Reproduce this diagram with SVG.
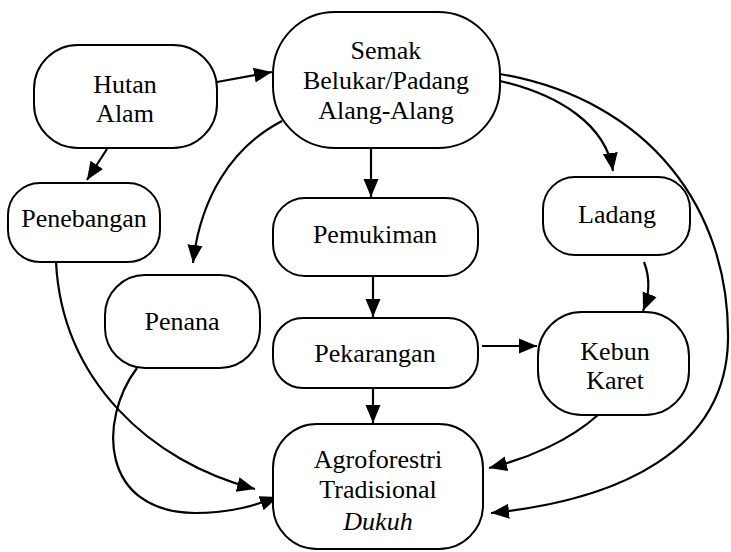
<svg xmlns="http://www.w3.org/2000/svg" width="731" height="552" viewBox="0 0 731 552">
<style>
.n rect{fill:#fff;stroke:#000;stroke-width:2}
.n text{font-family:'Liberation Serif',Tinos,'Times New Roman',Times,'DejaVu Serif',serif;font-size:26px;fill:#000;text-anchor:middle}
.c path{fill:none;stroke:#000;stroke-width:2.2;marker-end:url(#ah)}
</style>
<defs>
<marker id="ah" markerUnits="userSpaceOnUse" markerWidth="19" markerHeight="16" refX="18" refY="8" orient="auto">
<path d="M0,0.5 L18,8 L0,15.5 z" fill="#000"/>
</marker>
</defs>
<rect width="731" height="552" fill="#fff"/>
<g class="c">
<path d="M217,82 L272,72"/>
<path d="M107,149 L87,180"/>
<path d="M282,121 C230,148 200,200 193,263"/>
<path d="M371,148 L371,197"/>
<path d="M373,259 L373,317"/>
<path d="M373,388 L373,423"/>
<path d="M482,346 L537,346"/>
<path d="M500,81 C560,95 606,125 613,171"/>
<path d="M644,262 C651,280 649,296 643,311"/>
<path d="M500,74 C650,100 730,210 728,340 C726,450 620,500 491,513"/>
<path d="M598,415 C570,440 530,458 489,468"/>
<path d="M56,262 C62,380 150,462 255,489"/>
<path d="M137,368 C98,420 100,512 195,513 C232,513 256,505 278,497"/>
</g>
<g id="hutan" class="n"><rect x="34" y="45" width="183" height="103" rx="44"/><text x="125" y="93">Hutan</text><text x="125" y="122">Alam</text></g>
<g id="penebangan" class="n"><rect x="8" y="183" width="152" height="79" rx="32"/><text x="84" y="227">Penebangan</text></g>
<g id="semak" class="n"><rect x="273" y="12" width="227" height="136" rx="62"/><text x="386" y="59">Semak</text><text x="386" y="89">Belukar/Padang</text><text x="386" y="119">Alang-Alang</text></g>
<g id="pemukiman" class="n"><rect x="273" y="198" width="205" height="78" rx="32"/><text x="375" y="243">Pemukiman</text></g>
<g id="ladang" class="n"><rect x="543" y="177" width="147" height="78" rx="32"/><text x="617" y="223">Ladang</text></g>
<g id="penana" class="n"><rect x="105" y="275" width="155" height="93" rx="40"/><text x="182" y="330">Penana</text></g>
<g id="pekarangan" class="n"><rect x="273" y="318" width="205" height="70" rx="30"/><text x="375" y="362">Pekarangan</text></g>
<g id="kebun" class="n"><rect x="538" y="312" width="151" height="103" rx="44"/><text x="615" y="360">Kebun</text><text x="615" y="389">Karet</text></g>
<g id="agroforestri" class="n"><rect x="273" y="424" width="210" height="125" rx="44"/><text x="378" y="468">Agroforestri</text><text x="378" y="498">Tradisional</text><text x="378" y="530" font-style="italic">Dukuh</text></g>
</svg>
